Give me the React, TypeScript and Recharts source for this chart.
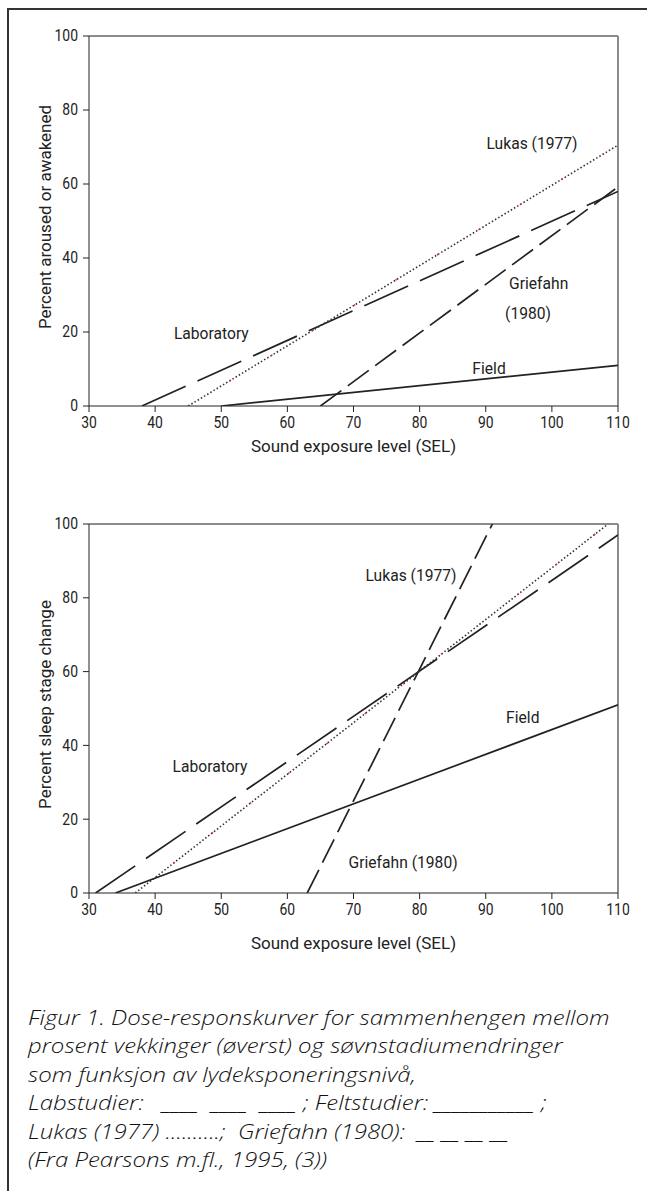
import React from "react";
import {
  LineChart,
  Line,
  XAxis,
  YAxis,
  ReferenceLine,
  ReferenceDot,
} from "recharts";

type Pt = { x: number; y: number };
type Note = { text: string; x: number; y: number };

const xTicks = [30, 40, 50, 60, 70, 80, 90, 100, 110];
const yTicks = [0, 20, 40, 60, 80, 100];

// top panel: percent aroused or awakened
const arousalLab: Pt[] = [
  { x: 38, y: 0 },
  { x: 110, y: 58 },
];
const arousalField: Pt[] = [
  { x: 50, y: 0 },
  { x: 110, y: 11 },
];
const arousalLukas: Pt[] = [
  { x: 45, y: 0 },
  { x: 110, y: 70.5 },
];
const arousalGriefahn: Pt[] = [
  { x: 65, y: 0 },
  { x: 110, y: 59.2 },
];
const arousalNotes: Note[] = [
  { text: "Laboratory", x: 48.5, y: 19.7 },
  { text: "Lukas (1977)", x: 97, y: 71 },
  { text: "Griefahn", x: 98, y: 33.2 },
  { text: "(1980)", x: 96.4, y: 25.1 },
  { text: "Field", x: 90.5, y: 10.2 },
];

// bottom panel: percent sleep stage change
const sleepLab: Pt[] = [
  { x: 31, y: 0 },
  { x: 110, y: 97 },
];
const sleepField: Pt[] = [
  { x: 34, y: 0 },
  { x: 110, y: 51 },
];
const sleepLukas: Pt[] = [
  { x: 37, y: 0 },
  { x: 108.5, y: 100 },
];
const sleepGriefahn: Pt[] = [
  { x: 63, y: 0 },
  { x: 91, y: 100 },
];
const sleepNotes: Note[] = [
  { text: "Lukas (1977)", x: 78.7, y: 86.2 },
  { text: "Field", x: 95.6, y: 47.7 },
  { text: "Laboratory", x: 48.3, y: 34.4 },
  { text: "Griefahn (1980)", x: 77.5, y: 8.4 },
];

const captionLines = [
  "Figur 1. Dose-responskurver for sammenhengen mellom",
  "prosent vekkinger (øverst) og søvnstadiumendringer",
  "som funksjon av lydeksponeringsnivå,",
  "Labstudier:   ____  ____  ____ ; Feltstudier: ___________ ;",
  "Lukas (1977) ..........;  Griefahn (1980):  __ __ __ __",
  "(Fra Pearsons m.fl., 1995, (3))",
];

const INK = "#222";
const FRAME = "#8c8c8c";
const FONT = "Roboto, 'Liberation Sans', sans-serif";

// condensed look of the original's Helvetica Condensed
function XTick(props: any) {
  const { x, y, payload } = props;
  return (
    <text
      transform={`translate(${x},${y + 2}) scale(0.82,1)`}
      textAnchor="middle"
      dy="0.71em"
      fill={INK}
      fontSize={17}
      fontFamily={FONT}
    >
      {payload.value}
    </text>
  );
}

function YTick(props: any) {
  const { x, y, payload } = props;
  return (
    <text
      transform={`translate(${x},${y}) scale(0.82,1)`}
      textAnchor="end"
      dominantBaseline="central"
      fill={INK}
      fontSize={17}
      fontFamily={FONT}
    >
      {payload.value}
    </text>
  );
}

function noteLabel(text: string) {
  return (lp: any) => {
    const vb = lp.viewBox || {};
    const cx = (vb.x ?? 0) + (vb.width ?? 0) / 2;
    const cy = (vb.y ?? 0) + (vb.height ?? 0) / 2;
    return (
      <text
        transform={`translate(${cx},${cy}) scale(0.92,1)`}
        textAnchor="middle"
        dominantBaseline="central"
        fill={INK}
        fontSize={17}
        fontFamily={FONT}
      >
        {text}
      </text>
    );
  };
}

type PanelProps = {
  height: number;
  top: number;
  marginTop: number;
  marginBottom: number;
  xAxisHeight: number;
  yTitle: string;
  lab: Pt[];
  field: Pt[];
  lukas: Pt[];
  griefahn: Pt[];
  notes: Note[];
};

function Panel(p: PanelProps) {
  return (
    <div style={{ position: "absolute", left: 0, top: p.top }}>
      <LineChart
        width={647}
        height={p.height}
        margin={{ top: p.marginTop, right: 29, left: 30, bottom: p.marginBottom }}
      >
        <XAxis
          type="number"
          dataKey="x"
          domain={[30, 110]}
          ticks={xTicks}
          allowDataOverflow
          tick={<XTick />}
          tickSize={6}
          stroke={INK}
          height={p.xAxisHeight}
          label={{
            value: "Sound exposure level (SEL)",
            position: "insideBottom",
            offset: 0,
            fill: INK,
            fontSize: 17,
            fontFamily: FONT,
          }}
        />
        <YAxis
          type="number"
          dataKey="y"
          domain={[0, 100]}
          ticks={yTicks}
          allowDataOverflow
          tick={<YTick />}
          tickSize={6}
          tickMargin={5}
          stroke={INK}
          width={59}
          label={(lp: any) => {
            const vb = lp.viewBox || {};
            const cx = (vb.x ?? 30) + 15;
            const cy = (vb.y ?? 0) + (vb.height ?? 0) / 2 - 4;
            return (
              <text
                x={cx}
                y={cy}
                transform={`rotate(-90, ${cx}, ${cy})`}
                textAnchor="middle"
                dominantBaseline="central"
                fill={INK}
                fontSize={17}
                fontFamily={FONT}
              >
                {p.yTitle}
              </text>
            );
          }}
        />
        <ReferenceLine y={100} stroke={FRAME} strokeWidth={2} />
        <ReferenceLine x={110} stroke={FRAME} strokeWidth={2} />
        <Line
          data={p.field}
          dataKey="y"
          type="linear"
          stroke={INK}
          strokeWidth={1.7}
          dot={false}
          isAnimationActive={false}
        />
        <Line
          data={p.lab}
          dataKey="y"
          type="linear"
          stroke={INK}
          strokeWidth={1.7}
          strokeDasharray="48 13"
          dot={false}
          isAnimationActive={false}
        />
        <Line
          data={p.griefahn}
          dataKey="y"
          type="linear"
          stroke={INK}
          strokeWidth={1.7}
          strokeDasharray="26 8"
          dot={false}
          isAnimationActive={false}
        />
        <Line
          data={p.lukas}
          dataKey="y"
          type="linear"
          stroke="#333"
          strokeWidth={1.6}
          strokeDasharray="1.5 2.2"
          dot={false}
          isAnimationActive={false}
        />
        <Line
          data={p.lukas}
          dataKey="y"
          type="linear"
          stroke="#d33"
          strokeWidth={1.6}
          strokeDasharray="1.5 47"
          dot={false}
          isAnimationActive={false}
        />
        {p.notes.map((n) => (
          <ReferenceDot
            key={n.text}
            x={n.x}
            y={n.y}
            r={0}
            fill="none"
            stroke="none"
            label={noteLabel(n.text)}
          />
        ))}
      </LineChart>
    </div>
  );
}

export default function App() {
  return (
    <div
      style={{
        position: "absolute",
        left: 0,
        top: 0,
        width: 647,
        height: 1191,
        overflow: "hidden",
        background: "#fff",
      }}
    >
      <div
        style={{
          position: "absolute",
          left: 7,
          top: 8,
          width: 720,
          height: 1300,
          border: "2px solid #333",
        }}
      />
      <Panel
        height={460}
        top={0}
        marginTop={36}
        marginBottom={8}
        xAxisHeight={46}
        yTitle="Percent aroused or awakened"
        lab={arousalLab}
        field={arousalField}
        lukas={arousalLukas}
        griefahn={arousalGriefahn}
        notes={arousalNotes}
      />
      <Panel
        height={484}
        top={470}
        marginTop={54}
        marginBottom={5}
        xAxisHeight={56}
        yTitle="Percent sleep stage change"
        lab={sleepLab}
        field={sleepField}
        lukas={sleepLukas}
        griefahn={sleepGriefahn}
        notes={sleepNotes}
      />
      <div
        style={{
          position: "absolute",
          left: 28,
          top: 1004,
          fontFamily: "'Open Sans', sans-serif",
          fontStyle: "italic",
          fontWeight: 300,
          fontSize: 20,
          lineHeight: "28.4px",
          color: "#111",
          whiteSpace: "pre",
          transform: "scale(1.2, 1)",
          transformOrigin: "left top",
        }}
      >
        {captionLines.map((l) => (
          <div key={l}>{l}</div>
        ))}
      </div>
    </div>
  );
}
